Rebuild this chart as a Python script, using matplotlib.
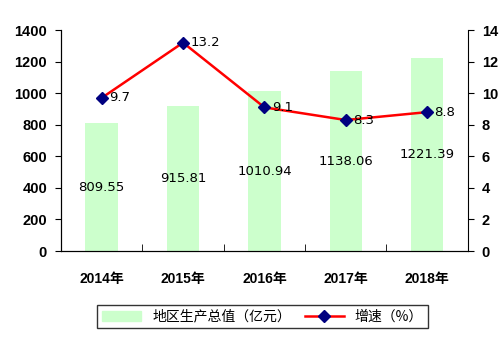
import numpy as np
import matplotlib.pyplot as plt
from matplotlib.lines import Line2D
from matplotlib.patches import Patch

plt.rcParams['font.family'] = ['DejaVu Sans', 'Noto Sans CJK SC']

# data
years = ['2014年', '2015年', '2016年', '2017年', '2018年']
gdp = [809.55, 915.81, 1010.94, 1138.06, 1221.39]
growth = [9.7, 13.2, 9.1, 8.3, 8.8]

x = np.arange(len(years))
fig = plt.figure(figsize=(5.02, 3.43), dpi=100)
ax = fig.add_axes([0.1215, 0.268, 0.8105, 0.6445])
ax2 = ax.twinx()

ax.bar(x, gdp, width=0.4, color='#ccffcc', zorder=1)
for xi, v in zip(x, gdp):
    ax.text(xi, v / 2, f'{v:.2f}', ha='center', va='center', fontsize=9.5,
            family='DejaVu Sans')

ax2.plot(x, growth, color='red', lw=1.8, marker='D', ms=6.5,
         mfc='#000080', mec='#000080', zorder=3)
for xi, v in zip(x, growth):
    ax2.text(xi + 0.09, v, f'{v}', ha='left', va='center', fontsize=9.5,
             family='DejaVu Sans')

ax.set_xlim(-0.5, 4.5)
ax.set_ylim(0, 1400)
ax.set_yticks(range(0, 1401, 200))
ax2.set_ylim(0, 14)
ax2.set_yticks(range(0, 15, 2))
ax2.patch.set_visible(False)

ax.set_xticks(x)
ax.set_xticklabels(years, fontweight='bold', fontsize=10,
                   family=['Liberation Sans', 'Noto Sans CJK SC'])
ax.set_xticks(np.arange(0.5, 4.5, 1), minor=True)
ax.tick_params(axis='x', which='major', length=0, pad=15)
ax.tick_params(axis='x', which='minor', direction='in', length=5)
ax.tick_params(axis='y', direction='out', length=4, pad=6)
ax2.tick_params(axis='y', direction='out', length=4, pad=6)
for lab in ax.get_yticklabels() + ax2.get_yticklabels():
    lab.set_fontweight('bold')
    lab.set_family('Liberation Sans')
    lab.set_fontsize(10.5)
for lab in ax.get_xticklabels():
    lab.set_fontweight('bold')

ax.spines['top'].set_visible(False)
ax2.spines['top'].set_visible(False)
ax.spines['right'].set_visible(False)

handles = [Patch(color='#ccffcc'),
           Line2D([0], [0], color='red', lw=1.8, marker='D', ms=6.5,
                  mfc='#000080', mec='#000080')]
leg = fig.legend(handles, ['地区生产总值（亿元）', '增速（%）'], loc='center',
                 bbox_to_anchor=(0.523, 0.077), ncol=2, fancybox=False,
                 edgecolor='black', prop={'family': 'Noto Sans CJK SC', 'size': 10},
                 handlelength=2.8, columnspacing=1.0, borderpad=0.35)
leg.get_frame().set_linewidth(1.0)

fig.savefig('out.png', dpi=100)
